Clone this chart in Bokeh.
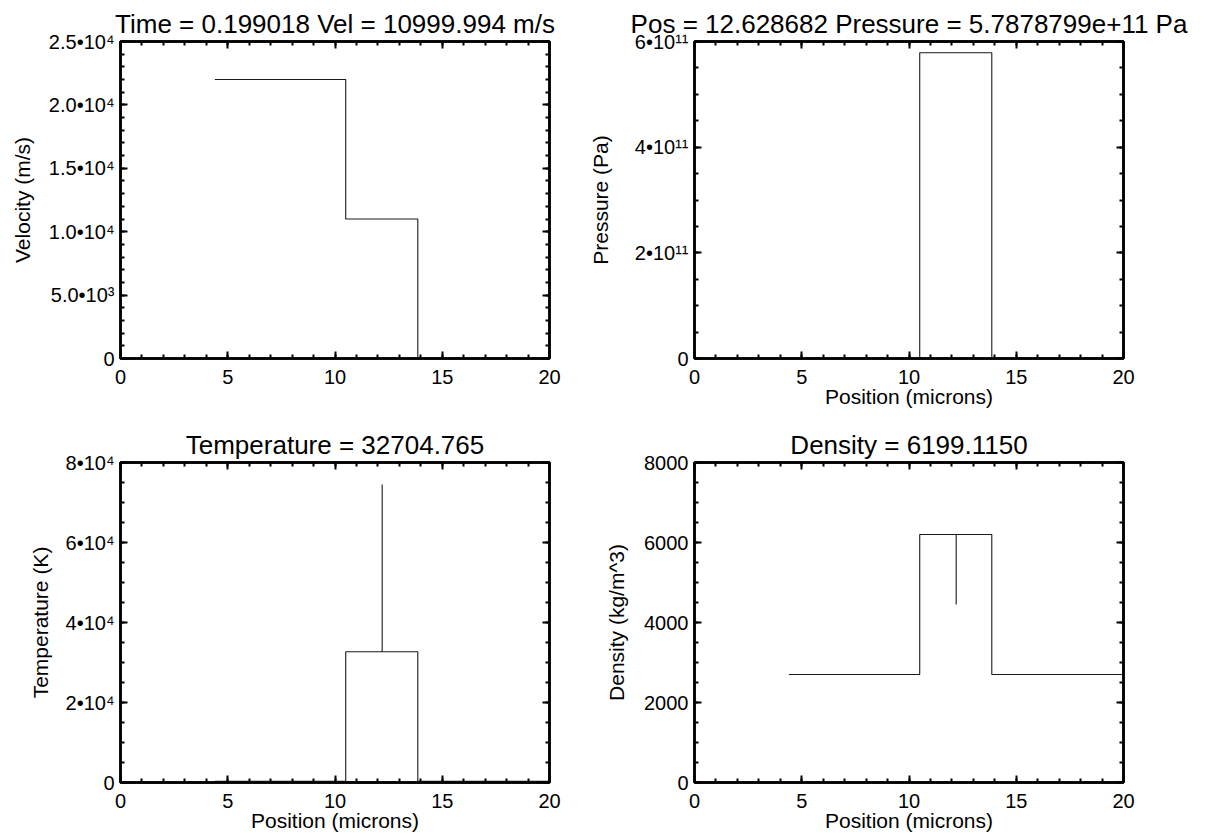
from bokeh.plotting import figure
from bokeh.layouts import gridplot
from bokeh.models import Range1d, FixedTicker, LinearAxis
from bokeh.embed import file_html
from bokeh.resources import INLINE

FONT = "Liberation Sans"

# ---------------- data ----------------
vel_x = [4.4, 10.5, 10.5, 13.86, 13.86, 20.0]
vel_y = [22000.0, 22000.0, 10999.994, 10999.994, 0.0, 0.0]

pres_x = [4.4, 10.5, 10.5, 13.86, 13.86, 20.0]
pres_y = [0.0, 0.0, 5.7878799e11, 5.7878799e11, 0.0, 0.0]

temp_x = [4.4, 10.5, 10.5, 12.2, 12.2, 12.2, 13.86, 13.86, 20.0]
temp_y = [300.0, 300.0, 32704.765, 32704.765, 74500.0, 32704.765, 32704.765, 300.0, 300.0]

dens_x = [4.4, 10.5, 10.5, 12.2, 12.2, 12.2, 13.86, 13.86, 20.0]
dens_y = [2700.0, 2700.0, 6199.115, 6199.115, 4450.0, 6199.115, 6199.115, 2700.0, 2700.0]

x_ticks = [0, 5, 10, 15, 20]
x_tick_labels = ["0", "5", "10", "15", "20"]
x_minor = list(range(0, 21))

vel_ticks = [0, 5000, 10000, 15000, 20000, 25000]
vel_tick_labels = ["0", "5.0•10³", "1.0•10⁴", "1.5•10⁴", "2.0•10⁴", "2.5•10⁴"]
vel_minor = list(range(0, 25001, 1000))

pres_ticks = [0, 2e11, 4e11, 6e11]
pres_tick_labels = ["0", "2•10¹¹", "4•10¹¹", "6•10¹¹"]
pres_minor = [i * 0.5e11 for i in range(13)]

temp_ticks = [0, 20000, 40000, 60000, 80000]
temp_tick_labels = ["0", "2•10⁴", "4•10⁴", "6•10⁴", "8•10⁴"]
temp_minor = list(range(0, 80001, 5000))

dens_ticks = [0, 2000, 4000, 6000, 8000]
dens_tick_labels = ["0", "2000", "4000", "6000", "8000"]
dens_minor = list(range(0, 8001, 500))

titles = [
    "Time = 0.199018 Vel = 10999.994 m/s",
    "Pos = 12.628682 Pressure = 5.7878799e+11 Pa",
    "Temperature = 32704.765",
    "Density = 6199.1150",
]
y_labels = ["Velocity (m/s)", "Pressure (Pa)", "Temperature (K)", "Density (kg/m^3)"]
x_label = "Position (microns)"


def style_axis(ax, ticks, minor, labels=None, show_labels=True):
    ax.ticker = FixedTicker(ticks=ticks, minor_ticks=minor)
    ax.axis_line_color = "black"
    ax.axis_line_width = 2.5
    ax.major_tick_line_color = "black"
    ax.major_tick_line_width = 2
    ax.minor_tick_line_color = "black"
    ax.minor_tick_line_width = 2
    ax.major_tick_in = 7
    ax.major_tick_out = 0
    ax.minor_tick_in = 4
    ax.minor_tick_out = 0
    if show_labels:
        ax.major_label_text_font = FONT
        ax.major_label_text_font_size = "20px"
        ax.major_label_text_color = "black"
        if labels is not None:
            ax.major_label_overrides = {float(t): l for t, l in zip(ticks, labels)}
    else:
        ax.major_label_overrides = {float(t): "" for t in ticks}
        ax.major_label_text_font_size = "1px"
        ax.major_label_standoff = 0


def panel(title, xs, ys, y_end, yt, ytl, ym, ylab, xlab, ylab_standoff,
          title_standoff, w, h, bl, br, bt, bb):
    p = figure(width=w, height=h, output_backend="svg", toolbar_location=None,
               x_range=Range1d(0, 20), y_range=Range1d(0, y_end),
               min_border_left=bl, min_border_right=br,
               min_border_top=bt, min_border_bottom=bb)
    p.grid.visible = False
    p.background_fill_color = "white"
    p.border_fill_color = "white"
    p.outline_line_color = "black"
    p.outline_line_width = 2.5

    p.title.text = title
    p.title.align = "center"
    p.title.text_font = FONT
    p.title.text_font_size = "26px"
    p.title.text_font_style = "normal"
    p.title.text_color = "black"
    p.title.standoff = title_standoff

    xa = p.xaxis[0]
    style_axis(xa, x_ticks, x_minor, x_tick_labels)
    xa.major_label_standoff = 11
    if xlab:
        xa.axis_label = xlab
        xa.axis_label_text_font = FONT
        xa.axis_label_text_font_size = "21px"
        xa.axis_label_text_font_style = "normal"
        xa.axis_label_text_color = "black"
        xa.axis_label_standoff = -2

    ya = p.yaxis[0]
    style_axis(ya, yt, ym, ytl)
    ya.major_label_standoff = 6
    ya.axis_label = ylab
    ya.axis_label_text_font = FONT
    ya.axis_label_text_font_size = "21px"
    ya.axis_label_text_font_style = "normal"
    ya.axis_label_text_color = "black"
    ya.axis_label_standoff = ylab_standoff

    top = LinearAxis()
    style_axis(top, x_ticks, x_minor, show_labels=False)
    p.add_layout(top, "above")
    right = LinearAxis()
    style_axis(right, yt, ym, show_labels=False)
    p.add_layout(right, "right")

    p.line(xs, ys, line_color="#1a1a1a", line_width=1.1)
    return p


p1 = panel(titles[0], vel_x, vel_y, 25000, vel_ticks, vel_tick_labels, vel_minor,
           y_labels[0], None, 12, 5, 585, 419, 120, 36, 40, 61)
p2 = panel(titles[1], pres_x, pres_y, 6e11, pres_ticks, pres_tick_labels, pres_minor,
           y_labels[1], x_label, 20, 5, 625, 419, 108, 87, 41, 61)
p3 = panel(titles[2], temp_x, temp_y, 80000, temp_ticks, temp_tick_labels, temp_minor,
           y_labels[2], x_label, 11, 5, 585, 419, 119, 36, 43, 56)
p4 = panel(titles[3], dens_x, dens_y, 8000, dens_ticks, dens_tick_labels, dens_minor,
           y_labels[3], x_label, 13, 5, 625, 419, 108, 87, 43, 56)

grid = gridplot([[p1, p2], [p3, p4]], toolbar_location=None)

open("out.html", "w").write(file_html(grid, INLINE))
